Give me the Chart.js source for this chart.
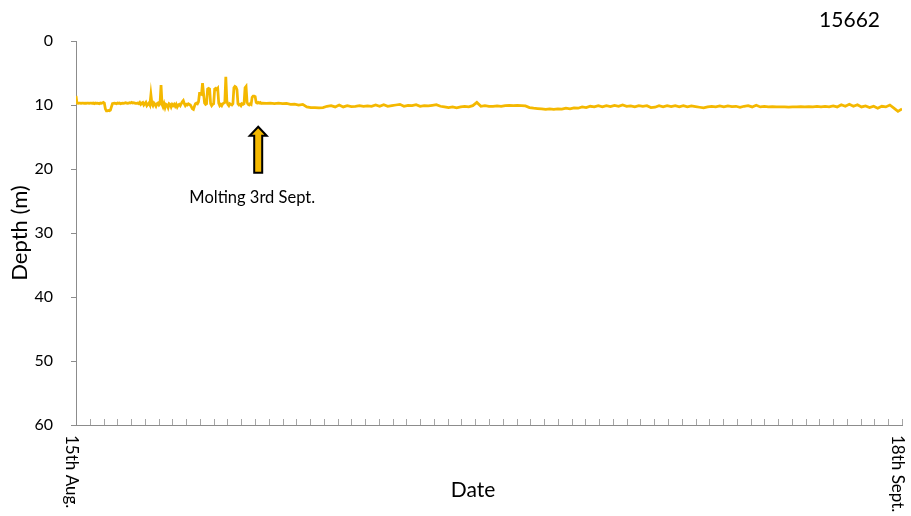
<!DOCTYPE html>
<html>
<head>
<meta charset="utf-8">
<title>15662 depth</title>
<script src="https://cdn.jsdelivr.net/npm/chart.js@4.4.1/dist/chart.umd.min.js"></script>
<style>
    html, body { margin: 0; padding: 0; background: #fff; }
    canvas { display: block; }
</style>
</head>
<body>
<canvas id="depthChart" width="911" height="516"></canvas>
<script>
"use strict";

// chart title (tag number)
const tagId = '15662';

// depth readings (m): hourly for the first 184 h after 15th Aug. 00:00 ...
const depthsHourly = [
    8.6, 9.7, 9.75, 9.7, 9.7, 9.75, 9.7, 9.7, 9.75, 9.7,
    9.75, 9.7, 9.7, 9.75, 9.7, 9.7, 9.75, 9.7, 9.8, 9.7,
    9.75, 9.7, 9.75, 9.8, 9.7, 9.75, 9.7, 9.6, 9.7, 10.6,
    10.9, 10.9, 10.85, 10.9, 10.8, 10.3, 9.8, 9.75, 9.7, 9.75,
    9.8, 9.7, 9.75, 9.7, 9.8, 9.75, 9.7, 9.75, 9.7, 9.65,
    9.7, 9.75, 9.7, 9.65, 9.7, 9.6, 9.7, 9.65, 9.7, 9.75,
    9.75, 9.7, 9.8, 9.6, 9.9, 9.7, 9.6, 10.0, 9.8, 9.6,
    10.1, 9.9, 9.7, 10.0, 8.4, 9.8, 10.1, 9.7, 9.9, 10.2,
    9.8, 9.7, 10.0, 9.8, 6.9, 9.9, 10.3, 9.8, 10.4, 9.9,
    10.0, 10.4, 9.8, 9.9, 10.3, 9.9, 10.1, 9.9, 10.2, 9.9,
    10.3, 10.0, 9.9, 10.1, 9.8, 9.5, 9.3, 9.8, 10.1, 9.9,
    10.0, 9.8, 9.9, 10.0, 10.3, 10.6, 10.7, 10.2, 9.8, 9.7,
    9.8, 9.5, 8.2, 8.2, 8.3, 6.6, 8.2, 9.7, 9.9, 9.8,
    7.5, 7.4, 7.5, 9.8, 10.1, 9.9, 9.8, 7.5, 7.4, 7.6,
    7.4, 9.7, 10.1, 9.9, 10.1, 9.8, 9.7, 9.6, 5.6, 9.3,
    9.9, 10.1, 9.8, 9.9, 10.0, 9.8, 7.3, 7.1, 7.2, 7.6,
    9.8, 10.0, 9.9, 10.1, 9.8, 9.9, 9.8, 7.3, 7.1, 9.6,
    9.9, 10.0, 9.8, 9.9, 8.8, 8.6, 8.6, 8.7, 9.6, 9.7,
    9.6, 9.7, 9.6, 9.75
];
// ... then one every 4 hours from 184 h to the end (18th Sept.)
const lateStartHour = 184;
const lateStepHours = 4;
const depths4h = [
    9.7, 9.75, 9.7, 9.8,
    9.7, 9.8, 9.75, 9.9, 9.85, 10.0, 9.9, 10.3, 10.4, 10.4,
    10.45, 10.4, 10.2, 10.1, 10.3, 10.0, 10.3, 10.1, 10.25, 10.2,
    10.1, 10.2, 10.15, 10.2, 10.0, 10.2, 9.95, 10.2, 10.1, 10.0,
    9.9, 10.2, 10.05, 10.1, 9.95, 10.2, 10.1, 10.15, 10.05, 9.95,
    10.2, 10.3, 10.4, 10.3, 10.45, 10.3, 10.2, 10.3, 10.1, 9.6,
    10.2, 10.1, 10.2, 10.2, 10.15, 10.2, 10.1, 10.05, 10.1, 10.05,
    10.1, 10.15, 10.4, 10.5, 10.55, 10.6, 10.7, 10.6, 10.7, 10.6,
    10.65, 10.5, 10.6, 10.45, 10.5, 10.3, 10.4, 10.2, 10.3, 10.1,
    10.3, 10.1, 10.25, 10.05, 10.2, 10.0, 10.2, 10.15, 10.3, 10.1,
    10.2, 10.1, 10.4, 10.35, 10.1, 10.3, 10.1, 10.25, 10.1, 10.3,
    10.1, 10.3, 10.15, 10.25, 10.35, 10.45, 10.3, 10.2, 10.3, 10.15,
    10.3, 10.15, 10.25, 10.2, 10.35, 10.2, 10.1, 10.3, 10.05, 10.3,
    10.2, 10.3, 10.25, 10.3, 10.3, 10.3, 10.35, 10.3, 10.3, 10.25,
    10.3, 10.25, 10.3, 10.2, 10.3, 10.2, 10.3, 10.15, 10.3, 9.95,
    10.2, 9.9, 10.2, 9.95, 10.3, 10.15, 10.4, 10.2, 10.5, 10.2,
    10.3, 10.0, 10.5, 11.0, 10.6
];

const depthPoints = depthsHourly.map((d, i) => ({ x: i, y: d }))
    .concat(depths4h.map((d, i) => ({ x: lateStartHour + i * lateStepHours, y: d })));

// x axis: only the first and last dates are labelled
const dateLabels = ['15th Aug.', '18th Sept.'];
const dateLabelHours = [0, 816];
const xTickCount = 60;

// y axis
const depthMin = 0;
const depthMax = 60;
const depthStep = 10;

// molting annotation
const moltText = 'Molting 3rd Sept.';
const moltHour = 180;
const moltArrowTop = 13.4;
const moltArrowBottom = 20.6;
const moltTextDepth = 24.5;

const lineColor = '#F4B800';
const axisColor = '#8c8c8c';
const fontFamily = 'Lato, "Open Sans", sans-serif';

Chart.defaults.font.family = fontFamily;
Chart.defaults.color = '#000';

// draws inward x tick marks, rotated date labels, the annotation and the titles
const decorations = {
    id: 'decorations',
    afterDraw(chart) {
        const ctx = chart.ctx;
        const xs = chart.scales.x;
        const ys = chart.scales.y;
        const area = chart.chartArea;

        // x tick marks, pointing up into the plot
        ctx.save();
        ctx.strokeStyle = '#a6a6a6';
        ctx.lineWidth = 1;
        const span = xs.max - xs.min;
        for (let i = 1; i <= xTickCount; i++) {
            const px = Math.round(xs.getPixelForValue(xs.min + span * i / xTickCount)) + 0.5;
            ctx.beginPath();
            ctx.moveTo(px, area.bottom);
            ctx.lineTo(px, area.bottom - 6);
            ctx.stroke();
        }
        ctx.restore();

        // date labels, reading top to bottom
        ctx.save();
        ctx.fillStyle = '#000';
        ctx.font = '17px ' + fontFamily;
        ctx.textAlign = 'left';
        ctx.textBaseline = 'middle';
        dateLabels.forEach(function (text, i) {
            const px = xs.getPixelForValue(dateLabelHours[i]) - 5;
            ctx.save();
            ctx.translate(px, area.bottom + 10);
            ctx.rotate(Math.PI / 2);
            ctx.fillText(text, 0, 0);
            ctx.restore();
        });
        ctx.restore();

        // molting arrow
        const ax = xs.getPixelForValue(moltHour);
        const yTop = ys.getPixelForValue(moltArrowTop);
        const yBot = ys.getPixelForValue(moltArrowBottom);
        const headH = 9, headW = 8.5, shaftW = 4;
        ctx.save();
        ctx.beginPath();
        ctx.moveTo(ax, yTop);
        ctx.lineTo(ax + headW, yTop + headH);
        ctx.lineTo(ax + shaftW, yTop + headH);
        ctx.lineTo(ax + shaftW, yBot);
        ctx.lineTo(ax - shaftW, yBot);
        ctx.lineTo(ax - shaftW, yTop + headH);
        ctx.lineTo(ax - headW, yTop + headH);
        ctx.closePath();
        ctx.fillStyle = lineColor;
        ctx.fill();
        ctx.lineWidth = 2;
        ctx.lineJoin = 'miter';
        ctx.strokeStyle = '#000';
        ctx.stroke();

        ctx.fillStyle = '#000';
        ctx.font = '16.5px ' + fontFamily;
        ctx.textAlign = 'center';
        ctx.textBaseline = 'middle';
        ctx.fillText(moltText, ax - 6, ys.getPixelForValue(moltTextDepth));
        ctx.restore();

        // chart title and x title
        ctx.save();
        ctx.fillStyle = '#000';
        ctx.font = '21px ' + fontFamily;
        ctx.textBaseline = 'middle';
        ctx.textAlign = 'right';
        ctx.fillText(tagId, 880, 20);
        ctx.textAlign = 'center';
        ctx.fillText('Date', 473, 490);
        ctx.restore();
    }
};

const ctx = document.getElementById('depthChart');
const depthChart = new Chart(ctx, {
    type: 'line',
    data: {
        datasets: [
            {
                label: 'Depth',
                data: depthPoints,
                borderColor: lineColor,
                borderWidth: 2.75,
                pointRadius: 0,
                tension: 0,
                fill: false
            }
        ]
    },
    options: {
        responsive: false,
        animation: false,
        layout: {
            padding: { left: 0, right: 9, top: 41, bottom: 0 }
        },
        plugins: {
            legend: { display: false },
            tooltip: { enabled: false },
            title: { display: false }
        },
        scales: {
            x: {
                type: 'linear',
                min: 0,
                max: 816,
                grid: { display: false },
                ticks: { display: false },
                border: { color: axisColor, width: 1 },
                afterFit: function (scale) { scale.height = 91; }
            },
            y: {
                reverse: true,
                min: depthMin,
                max: depthMax,
                ticks: {
                    stepSize: depthStep,
                    color: '#000',
                    font: { size: 16 },
                    padding: 18
                },
                grid: {
                    drawOnChartArea: false,
                    drawTicks: true,
                    tickLength: 5,
                    color: axisColor
                },
                border: { color: axisColor, width: 1 },
                title: {
                    display: true,
                    text: 'Depth (m)',
                    color: '#000',
                    font: { size: 22 },
                    padding: { top: 7, bottom: 0 }
                },
                afterFit: function (scale) { scale.width = 76; }
            }
        }
    },
    plugins: [decorations]
});
</script>
</body>
</html>
